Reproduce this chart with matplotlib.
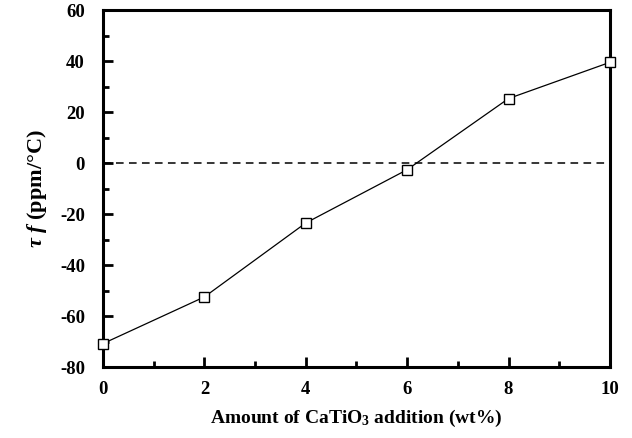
import matplotlib
matplotlib.use("Agg")
import matplotlib.pyplot as plt
from matplotlib.ticker import MultipleLocator

plt.rcParams['font.family'] = ['Liberation Serif', 'DejaVu Serif']
plt.rcParams['font.weight'] = 'bold'
plt.rcParams['axes.unicode_minus'] = False
plt.rcParams['mathtext.fontset'] = 'custom'
plt.rcParams['mathtext.rm'] = 'Liberation Serif:bold'
plt.rcParams['mathtext.it'] = 'Liberation Serif:bold:italic'
plt.rcParams['mathtext.bf'] = 'Liberation Serif:bold'

# CaTiO3 content (wt%) and temperature coefficient of resonant frequency
catio3 = [0, 2, 4, 6, 8, 10]
tau_f = [-70.8, -52.5, -23.5, -2.6, 25.3, 39.5]

fig = plt.figure(figsize=(6.32, 4.38), dpi=100)
ax = fig.add_axes([0.163, 0.162, 0.802, 0.815])

ax.plot(catio3, tau_f, color='black', lw=0.9, marker='s', ms=7,
        mfc='white', mec='black', mew=1.0, clip_on=False, zorder=5)
ax.plot([0, 10], [0, 0], color='black', lw=1.1, ls=(0, (5, 3.5)))

ax.set_xlim(0, 10)
ax.set_ylim(-80, 60)
ax.xaxis.set_major_locator(MultipleLocator(2))
ax.xaxis.set_minor_locator(MultipleLocator(1))
ax.yaxis.set_major_locator(MultipleLocator(20))
ax.yaxis.set_minor_locator(MultipleLocator(10))

for s in ax.spines.values():
    s.set_linewidth(2.2)
ax.tick_params(which='both', direction='in', top=False, right=False,
               width=2.0, labelsize=13.5)
ax.tick_params(which='major', length=7.5)
ax.tick_params(which='minor', length=4)
ax.tick_params(axis='x', pad=10)
ax.tick_params(axis='y', pad=13)
for lbl in ax.get_xticklabels() + ax.get_yticklabels():
    lbl.set_fontweight('bold')

ax.set_xlabel(r'Amount of CaTiO$_\mathbf{3}$ addition (wt%)', fontsize=14,
              fontweight='bold', labelpad=7)
ax.set_ylabel(r'$\tau$ $f$ (ppm/°C)', fontsize=16,
              fontweight='bold', labelpad=8)

fig.savefig('out.png', dpi=100)
